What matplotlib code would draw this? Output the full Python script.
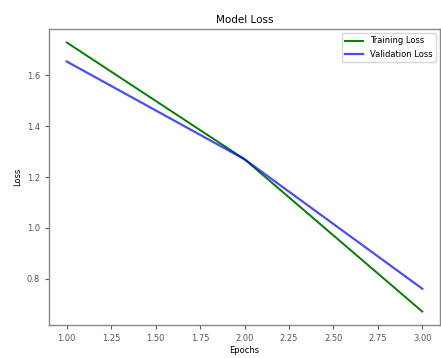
import numpy as np
import matplotlib
matplotlib.use("Agg")
import matplotlib.pyplot as plt

epochs = [1, 2, 3]
train_loss = [1.73, 1.27, 0.67]
val_loss = [1.655, 1.27, 0.76]

fig = plt.figure(figsize=(4.41, 3.58), dpi=100)
ax = fig.add_axes([0.111, 0.092, 0.887, 0.827])

ax.plot(epochs, train_loss, color="green", lw=1.4, label="Training Loss")
ax.plot(epochs, val_loss, color="blue", lw=1.6, alpha=0.7, label="Validation Loss")

ax.set_title("Model Loss", fontsize=7.5, pad=4)
ax.set_xlabel("Epochs", fontsize=6, labelpad=2)
ax.set_ylabel("Loss", fontsize=6, labelpad=3)
ax.set_xticks([1.0, 1.25, 1.5, 1.75, 2.0, 2.25, 2.5, 2.75, 3.0])
ax.set_yticks([0.8, 1.0, 1.2, 1.4, 1.6])
ax.tick_params(labelsize=6, length=3, width=0.8, colors="#555555")
for s in ax.spines.values():
    s.set_color("#888888")
    s.set_linewidth(1.0)
ax.legend(fontsize=6, loc="upper right", handlelength=2.2)

fig.savefig("out.png", dpi=100)
